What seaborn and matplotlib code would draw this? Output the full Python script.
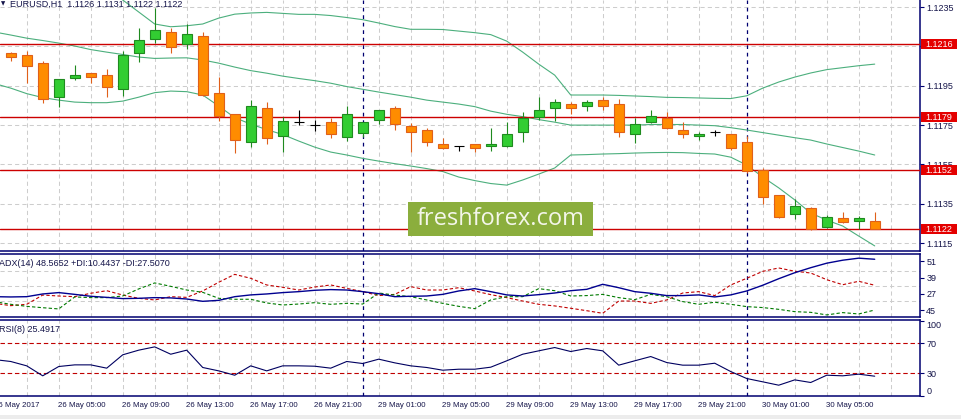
import numpy as np
import pandas as pd
import matplotlib
matplotlib.use("Agg")
import matplotlib.pyplot as plt
import matplotlib.transforms as mtransforms
from matplotlib.patches import Rectangle
import seaborn as sns

# EURUSD H1 candles, bar 0 = 26 May 02:00 ... bar 54 = 30 May 08:00
opens = [1.12115, 1.12106, 1.12064, 1.11891, 1.11991, 1.12013, 1.12003, 1.11932, 1.12115, 1.12189,
         1.12221, 1.12160, 1.12201, 1.11911, 1.11804, 1.11662, 1.11835, 1.11694, 1.11764, 1.11753,
         1.11764, 1.11691, 1.11711, 1.11774, 1.11835, 1.11743, 1.11723, 1.11652, 1.11642, 1.11652,
         1.11642, 1.11642, 1.11713, 1.11793, 1.11835, 1.11855, 1.11845, 1.11877, 1.11855, 1.11703,
         1.11764, 1.11784, 1.11723, 1.11696, 1.11713, 1.11703, 1.11662, 1.11523, 1.11393, 1.11296,
         1.11327, 1.11233, 1.11276, 1.11265, 1.11260]
highs = [1.12120, 1.12126, 1.12075, 1.11985, 1.12055, 1.12015, 1.12035, 1.12126, 1.12245, 1.12345,
         1.12245, 1.12264, 1.12221, 1.11993, 1.11805, 1.11877, 1.11865, 1.11792, 1.11826, 1.11775,
         1.11784, 1.11847, 1.11766, 1.11828, 1.11847, 1.11759, 1.11733, 1.11682, 1.11644, 1.11654,
         1.11733, 1.11764, 1.11815, 1.11891, 1.11881, 1.11865, 1.11877, 1.11891, 1.11882, 1.11784,
         1.11826, 1.11815, 1.11764, 1.11713, 1.11725, 1.11706, 1.11693, 1.11533, 1.11395, 1.11372,
         1.11335, 1.11294, 1.11306, 1.11286, 1.11310]
lows = [1.12075, 1.11962, 1.11863, 1.11843, 1.11979, 1.11962, 1.11894, 1.11899, 1.12072, 1.12168,
        1.12115, 1.12135, 1.11898, 1.11772, 1.11606, 1.11640, 1.11652, 1.11611, 1.11750, 1.11722,
        1.11682, 1.11670, 1.11691, 1.11754, 1.11723, 1.11614, 1.11642, 1.11630, 1.11619, 1.11614,
        1.11619, 1.11640, 1.11662, 1.11774, 1.11772, 1.11804, 1.11823, 1.11826, 1.11691, 1.11660,
        1.11762, 1.11730, 1.11682, 1.11672, 1.11693, 1.11621, 1.11505, 1.11347, 1.11276, 1.11274,
        1.11215, 1.11228, 1.11253, 1.11223, 1.11220]
closes = [1.12094, 1.12052, 1.11881, 1.11982, 1.12003, 1.11993, 1.11942, 1.12106, 1.12181, 1.12232,
          1.12148, 1.12211, 1.11901, 1.11796, 1.11672, 1.11845, 1.11682, 1.11772, 1.11764, 1.11753,
          1.11703, 1.11804, 1.11764, 1.11825, 1.11754, 1.11713, 1.11662, 1.11632, 1.11642, 1.11632,
          1.11654, 1.11703, 1.11784, 1.11826, 1.11865, 1.11835, 1.11865, 1.11845, 1.11713, 1.11754,
          1.11794, 1.11733, 1.11703, 1.11706, 1.11713, 1.11632, 1.11515, 1.11383, 1.11284, 1.11337,
          1.11223, 1.11284, 1.11255, 1.11279, 1.11220]

# indicator series start one bar earlier (bar -1, just left of the view)
bb_upper = [1.12487, 1.12487, 1.12487, 1.12492, 1.12492, 1.12487, 1.12477, 1.12447, 1.12386, 1.12325,
            1.12264, 1.12250, 1.12255, 1.12264, 1.12294, 1.12314, 1.12320, 1.12323, 1.12318, 1.12313,
            1.12313, 1.12307, 1.12297, 1.12286, 1.12269, 1.12251, 1.12237, 1.12237, 1.12236, 1.12228,
            1.12220, 1.12210, 1.12177, 1.12121, 1.12060, 1.12004, 1.11903, 1.11903, 1.11903, 1.11901,
            1.11898, 1.11895, 1.11891, 1.11890, 1.11888, 1.11886, 1.11885, 1.11899, 1.11938, 1.11969,
            1.11994, 1.12015, 1.12032, 1.12042, 1.12052, 1.12060]
bb_middle = [1.12223, 1.12208, 1.12192, 1.12180, 1.12167, 1.12152, 1.12134, 1.12121, 1.12109, 1.12096,
             1.12089, 1.12091, 1.12092, 1.12081, 1.12065, 1.12045, 1.12027, 1.12014, 1.11999, 1.11987,
             1.11976, 1.11963, 1.11946, 1.11932, 1.11918, 1.11905, 1.11892, 1.11877, 1.11867, 1.11857,
             1.11844, 1.11821, 1.11805, 1.11793, 1.11778, 1.11765, 1.11750, 1.11750, 1.11750, 1.11750,
             1.11750, 1.11753, 1.11753, 1.11753, 1.11750, 1.11747, 1.11737, 1.11725, 1.11712, 1.11699,
             1.11686, 1.11674, 1.11654, 1.11636, 1.11618, 1.11598]
bb_lower = [1.11961, 1.11938, 1.11910, 1.11890, 1.11877, 1.11867, 1.11864, 1.11864, 1.11872, 1.11892,
            1.11915, 1.11923, 1.11920, 1.11903, 1.11847, 1.11788, 1.11755, 1.11727, 1.11702, 1.11669,
            1.11638, 1.11613, 1.11598, 1.11581, 1.11567, 1.11554, 1.11542, 1.11529, 1.11514, 1.11486,
            1.11468, 1.11453, 1.11445, 1.11471, 1.11501, 1.11532, 1.11598, 1.11600, 1.11603, 1.11605,
            1.11608, 1.11610, 1.11611, 1.11610, 1.11606, 1.11603, 1.11587, 1.11547, 1.11486, 1.11431,
            1.11370, 1.11303, 1.11267, 1.11237, 1.11186, 1.11136]

adx = [25.0, 24.8, 25.0, 27.0, 28.0, 26.7, 25.3, 24.5, 23.6, 23.8, 24.3, 24.1, 23.3, 21.6, 22.3, 25.0,
       26.3, 27.0, 28.0, 28.7, 29.7, 30.2, 29.9, 28.7, 27.2, 25.0, 25.3, 25.5, 26.7, 29.2, 30.9, 28.7,
       26.3, 25.5, 26.5, 27.7, 29.4, 30.4, 34.1, 31.6, 28.7, 27.5, 25.8, 25.8, 26.3, 24.8, 26.3, 29.2,
       33.4, 38.2, 42.6, 46.3, 49.6, 51.8, 53.3, 52.5]
plus_di = [21.3, 19.4, 17.9, 16.9, 16.0, 24.8, 24.3, 24.3, 25.5, 30.7, 35.1, 32.6, 29.9, 28.2, 23.8, 23.1,
           23.1, 20.4, 18.9, 19.6, 20.6, 19.4, 20.1, 19.6, 27.7, 26.2, 25.0, 22.6, 20.1, 17.9, 16.2, 22.6,
           25.0, 25.0, 30.9, 29.4, 25.5, 25.8, 26.7, 24.3, 22.8, 26.7, 25.0, 21.4, 19.4, 20.9, 19.4, 17.7,
           17.0, 15.7, 14.0, 13.5, 11.6, 13.3, 12.3, 15.2]
minus_di = [20.1, 18.4, 19.4, 26.2, 25.5, 25.0, 27.5, 29.4, 26.2, 23.8, 22.6, 25.0, 24.5, 29.2, 35.6, 41.4,
            38.5, 33.6, 31.9, 29.9, 32.1, 33.6, 31.1, 28.7, 25.8, 26.7, 32.4, 29.9, 29.9, 31.6, 29.2, 26.5,
            24.3, 21.8, 19.4, 18.2, 16.5, 14.7, 12.8, 21.8, 21.8, 20.1, 22.6, 27.7, 28.7, 25.8, 33.6, 38.5,
            43.6, 46.1, 43.7, 42.4, 37.5, 33.8, 36.3, 33.4]
rsi = [48.5, 46.0, 40.2, 26.9, 39.3, 41.5, 41.5, 37.1, 54.9, 61.1, 65.5, 55.7, 61.1, 38.0, 33.5, 27.7,
       40.2, 33.5, 40.2, 40.2, 39.7, 37.1, 46.0, 43.3, 49.1, 44.2, 40.2, 38.0, 34.4, 35.7, 35.7, 38.4,
       46.9, 55.7, 60.2, 64.6, 59.3, 63.3, 60.2, 41.1, 46.9, 52.6, 44.6, 41.1, 41.1, 43.7, 32.6, 23.3,
       18.9, 14.4, 21.5, 18.0, 27.7, 26.9, 29.1, 26.4]

levels = [1.1216, 1.1179, 1.1152, 1.1122]
price_ticks = [1.1235, 1.1215, 1.1195, 1.1175, 1.1155, 1.1135, 1.1115]
# 1.1215 sits fully under the 1.1216 label in the original
price_tick_labels = ["1.1235", "", "1.1195", "1.1175", "1.1155", "1.1135", "1.1115"]
adx_ticks = [51, 39, 27, 15]
adx_tick_labels = ["51", "39", "27", "45"]
adx_grid = [43.6, 32.6, 21.6]
rsi_levels = [70, 30]
rsi_ticks = [0, 30, 70, 100]
time_ticks = [-1, 3, 7, 11, 15, 19, 23, 27, 31, 35, 39, 43, 47, 51]
time_labels = ["26 May 2017", "26 May 05:00", "26 May 09:00", "26 May 13:00", "26 May 17:00",
               "26 May 21:00", "29 May 01:00", "29 May 05:00", "29 May 09:00", "29 May 13:00",
               "29 May 17:00", "29 May 21:00", "30 May 01:00", "30 May 05:00"]
day_starts = [22, 46]
title = "EURUSD,H1  1.1126 1.1131 1.1122 1.1122"
adx_title = "ADX(14) 48.5652 +DI:10.4437 -DI:27.5070"
rsi_title = "RSI(8) 25.4917"

NAVY = "#000070"
TXT = "#15154a"
GRID = "#cdcdcd"
UP, UP_EDGE = "#32cd32", "#1f8a1f"
DN, DN_EDGE = "#ff8c00", "#e0601a"
BAND = "#4caf7d"
RED = "#cc0000"

sns.set_style("white")
plt.rcParams["font.family"] = ["Liberation Sans", "DejaVu Sans"]

W, H = 961, 419
fig = plt.figure(figsize=(W / 100, H / 100), dpi=100)


def rect(x0, y0, x1, y1):
    return [x0 / W, 1 - y1 / H, (x1 - x0) / W, (y1 - y0) / H]


ax = fig.add_axes(rect(0, 0, 920, 251))
ax_adx = fig.add_axes(rect(0, 253.7, 920, 317.3))
ax_rsi = fig.add_axes(rect(0, 319.7, 920, 396))
axes = [ax, ax_adx, ax_rsi]

df = pd.DataFrame({"bar": np.arange(len(opens)), "open": opens, "high": highs,
                   "low": lows, "close": closes})
ind = pd.DataFrame({"bar": np.arange(-1, len(opens)), "upper": bb_upper, "middle": bb_middle,
                    "lower": bb_lower, "adx": adx, "pdi": plus_di, "mdi": minus_di, "rsi": rsi})

# --- main pane ---
for col in ["upper", "middle", "lower"]:
    sns.lineplot(data=ind, x="bar", y=col, ax=ax, color=BAND, linewidth=0.8, zorder=2)

for lvl in levels:
    ax.axhline(lvl, color=RED, lw=1.0, zorder=2.6)

up = df[df.close > df.open]
dn = df[df.close < df.open]
dj = df[df.close == df.open]
bw = 0.62
ax.vlines(up.bar, up.low, up.high, color=UP_EDGE, lw=0.8, zorder=3)
ax.bar(up.bar, up.close - up.open, bottom=up.open, width=bw, color=UP,
       edgecolor=UP_EDGE, linewidth=0.8, zorder=4)
ax.vlines(dn.bar, dn.low, dn.high, color=DN_EDGE, lw=0.8, zorder=3)
ax.bar(dn.bar, dn.open - dn.close, bottom=dn.close, width=bw, color=DN,
       edgecolor=DN_EDGE, linewidth=0.8, zorder=4)
ax.vlines(dj.bar, dj.low, dj.high, color="black", lw=0.8, zorder=4)
ax.hlines(dj.open, dj.bar - bw / 2, dj.bar + bw / 2, color="black", lw=0.8, zorder=4)

ax.set_ylim(1.11110, 1.12386)
ax.set_yticks(price_ticks)
ax.set_yticklabels(price_tick_labels)
for p in price_ticks:
    ax.axhline(p, color=GRID, ls=(0, (4, 3)), lw=0.75, zorder=0.5)

# red price labels on the scale
ppx = (1.12386 - 1.11110) / 251
blend = mtransforms.blended_transform_factory(ax.transAxes, ax.transData)
for lvl in levels:
    ax.add_patch(Rectangle((1 + 1 / 920, lvl - 5 * ppx), 36 / 920, 10 * ppx, transform=blend,
                           facecolor="#e40000", edgecolor="none", clip_on=False, zorder=10))
    ax.text(1 + 19 / 920, lvl, f"{lvl:.4f}", transform=blend, ha="center", va="center",
            fontsize=6.5, color="white", clip_on=False, zorder=11)

ax.text(10 / 920, 1 - 4 / 251, title, transform=ax.transAxes, ha="left", va="center",
        fontsize=6.5, color=TXT)
ax.text(0.5 / 920, 1 - 4 / 251, "\u25bc", transform=ax.transAxes, ha="left", va="center",
        fontsize=4, color=TXT, family="DejaVu Sans")

# --- ADX pane ---
sns.lineplot(data=ind, x="bar", y="mdi", ax=ax_adx, color="#c00000", linewidth=0.8, zorder=3)
ax_adx.lines[-1].set_linestyle((0, (3, 2)))
sns.lineplot(data=ind, x="bar", y="pdi", ax=ax_adx, color="#007a00", linewidth=0.8, zorder=3)
ax_adx.lines[-1].set_linestyle((0, (3, 2)))
sns.lineplot(data=ind, x="bar", y="adx", ax=ax_adx, color="#000090", linewidth=1.0, zorder=4)
ax_adx.set_ylim(9.85, 56.58)
ax_adx.set_yticks(adx_ticks)
ax_adx.set_yticklabels(adx_tick_labels)
for g in adx_grid:
    ax_adx.axhline(g, color=GRID, ls=(0, (4, 3)), lw=0.75, zorder=0.5)
ax_adx.text(-1 / 920, 1 - 9.6 / 63.6, adx_title, transform=ax_adx.transAxes, ha="left",
            va="center", fontsize=6.5, color=TXT)

# --- RSI pane ---
sns.lineplot(data=ind, x="bar", y="rsi", ax=ax_rsi, color="#000060", linewidth=0.8, zorder=3)
for lv in rsi_levels:
    ax_rsi.axhline(lv, color="#c00000", ls=(0, (4, 2.5)), lw=0.8, zorder=2)
ax_rsi.set_ylim(0, 101.7)
ax_rsi.set_yticks(rsi_ticks)
ax_rsi.set_yticklabels([str(t) for t in rsi_ticks])
ax_rsi.text(-1 / 920, 1 - 10.3 / 76.3, rsi_title, transform=ax_rsi.transAxes, ha="left",
            va="center", fontsize=6.5, color=TXT)

# time axis under the RSI pane
ax_rsi.set_xticks(time_ticks)
ax_rsi.set_xticklabels([""] * len(time_ticks))
ax_rsi.tick_params(axis="x", direction="out", length=3, width=0.8, color=NAVY)
for k, lbl in zip(time_ticks, time_labels):
    ax_rsi.annotate(lbl, xy=(k, 0), xycoords=("data", "axes fraction"), xytext=(-1, -9.7),
                    textcoords="offset pixels", ha="left", va="center", fontsize=5.7,
                    color=TXT, annotation_clip=False)

# shared styling
for a in axes:
    a.set_xlim(-0.67, 56.83)
    a.set_xlabel("")
    a.set_ylabel("")
    a.set_facecolor("white")
    for k in range(1, 57, 2):
        a.axvline(k, color=GRID, ls=(0, (4, 3)), lw=0.75, zorder=0.5)
    for k in day_starts:
        a.axvline(k, color=NAVY, ls=(0, (3, 3)), lw=0.9, zorder=1.5)
    a.yaxis.tick_right()
    a.tick_params(axis="y", direction="out", length=3, width=0.8, color=NAVY,
                  labelcolor=TXT, labelsize=6.5, pad=1.5)
    a.spines["left"].set_visible(False)
    for s in ["right", "bottom", "top"]:
        a.spines[s].set_color(NAVY)
        a.spines[s].set_linewidth(1.1)
    if a is not ax_rsi:
        a.tick_params(axis="x", bottom=False, labelbottom=False)
ax.spines["top"].set_visible(False)

rl = ax_rsi.get_yticklabels()
rl[0].set_va("bottom")
rl[-1].set_va("top")

# watermark and bottom strip
fig.add_artist(Rectangle((408.3 / W, 1 - 236 / H), 185 / W, 34.3 / H, transform=fig.transFigure,
                         facecolor="#8bae3d", edgecolor="none", zorder=20))
fig.text(501 / W, 1 - 219 / H, "freshforex.com", ha="center", va="center", fontsize=17,
         family="Open Sans", color="#f4f6ea", zorder=21)
fig.add_artist(Rectangle((0, 0), 1, 4 / H, transform=fig.transFigure, facecolor="#ececec",
                         edgecolor="none", zorder=20))

fig.savefig("out.png", dpi=100)
